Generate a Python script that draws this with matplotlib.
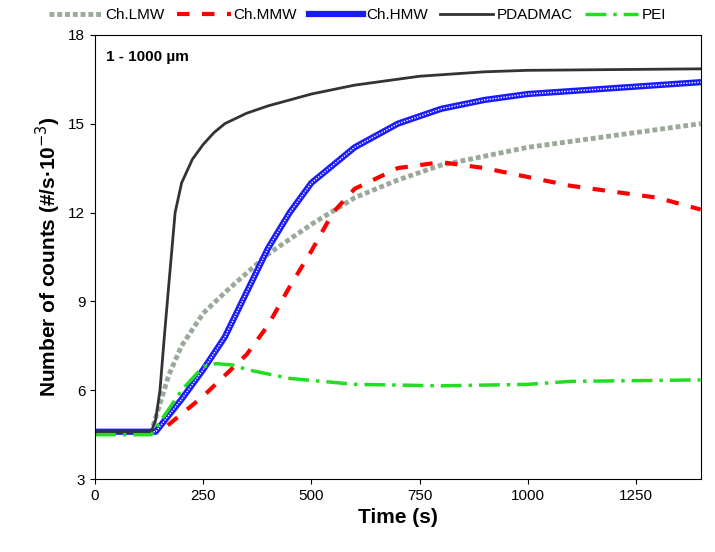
import matplotlib
matplotlib.use("Agg")
import matplotlib.pyplot as plt
plt.rcParams['font.family'] = ['Liberation Sans', 'DejaVu Sans']

t_pd = [0,130,140,150,160,170,185,200,225,250,275,300,350,400,450,500,600,750,900,1000,1400]
pd_ = [4.6,4.6,5.0,6.0,7.8,9.5,12.0,13.0,13.8,14.3,14.7,15.0,15.35,15.6,15.8,16.0,16.3,16.6,16.75,16.8,16.85]
t_h = [0,140,200,250,300,350,400,450,500,600,700,800,900,1000,1200,1400]
hmw = [4.6,4.6,5.7,6.7,7.8,9.3,10.8,12.0,13.0,14.2,15.0,15.5,15.8,16.0,16.2,16.4]
t_l = [0,130,170,200,250,300,400,500,600,700,800,1000,1200,1400]
lmw = [4.6,4.6,6.5,7.5,8.6,9.3,10.6,11.6,12.5,13.1,13.6,14.2,14.6,15.0]
t_m = [0,150,200,250,300,350,400,450,500,550,600,700,800,900,1000,1100,1200,1300,1400]
mmw = [4.6,4.6,5.2,5.8,6.5,7.2,8.2,9.5,10.7,12.0,12.8,13.5,13.7,13.5,13.2,12.9,12.7,12.5,12.1]
t_p = [0,130,200,250,280,320,350,450,600,800,1000,1100,1400]
pei = [4.5,4.5,6.0,6.8,6.9,6.85,6.7,6.4,6.2,6.15,6.2,6.3,6.35]

fig = plt.figure(figsize=(7.15,5.52), dpi=100)
ax = fig.add_axes([0.133, 0.132, 0.847, 0.805])
l1, = ax.plot(t_l, lmw, color='#9aaa9a', lw=3.5, ls=(0,(1,0.6)), label='Ch.LMW')
l2, = ax.plot(t_m, mmw, color='#ff0000', lw=3, ls=(0,(3,3)), label='Ch.MMW')
l3, = ax.plot(t_h, hmw, color='#1a1aff', lw=4.5, label='Ch.HMW')
ax.plot(t_h, hmw, color='white', lw=1, ls=(0,(1,1)))
l4, = ax.plot(t_pd, pd_, color='#333333', lw=2, label='PDADMAC')
l5, = ax.plot(t_p, pei, color='#22dd22', lw=2.5, ls=(0,(6,2,1,2)), label='PEI')
ax.set_xlim(0,1400); ax.set_ylim(3,18)
ax.set_xticks([0,250,500,750,1000,1250]); ax.set_yticks([3,6,9,12,15,18])
ax.tick_params(labelsize=11)
ax.set_xlabel('Time (s)', fontsize=15, fontweight='bold')
ax.set_ylabel('Number of counts (#/s·10$^{-3}$)', fontsize=15, fontweight='bold')
ax.text(25, 17.1, '1 - 1000 µm', fontsize=11, fontweight='bold')
fig.legend(handles=[l1,l2,l3,l4,l5], loc='upper center', bbox_to_anchor=(0.5,1.01), ncol=5,
           frameon=False, fontsize=11, handlelength=3.5, columnspacing=0.8, handletextpad=0.2)
fig.savefig('out.png', dpi=100)
